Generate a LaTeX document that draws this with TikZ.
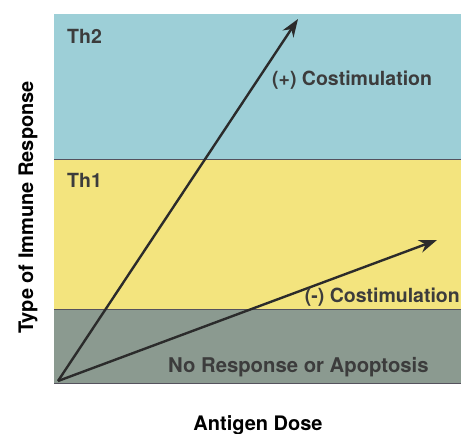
\documentclass[tikz,border=0pt]{standalone}
\usepackage{fontspec}
\setmainfont{TeX Gyre Heros}
\usepackage{tikz}
\usetikzlibrary{arrows.meta}
\definecolor{thtwo}{HTML}{9DCFD7}
\definecolor{thone}{HTML}{F3E47E}
\definecolor{noresp}{HTML}{8B9A90}
\definecolor{bandline}{HTML}{55525E}
\definecolor{inktext}{HTML}{3C3C3C}
\definecolor{arrowink}{HTML}{2B2B2B}
\newcommand{\bandfont}{\fontsize{19.5}{22}\selectfont\bfseries}
\newcommand{\axisfont}{\fontsize{20}{24}\selectfont\bfseries}

\tikzset{
  bandlabel/.style={anchor=base west, inner sep=0pt, text=inktext, font=\bandfont},
  axislabel/.style={inner sep=0pt, font=\axisfont},
  dosearrow/.style={draw=arrowink, line width=2.4pt, -{Stealth[length=18pt,width=13pt]}}
}

\begin{document}
\begin{tikzpicture}[x=1pt,y=-1pt]
    \useasboundingbox (0,0) rectangle (461,434);
    % response bands
    \fill[thtwo] (54,14) rectangle (461,159);
    \fill[thone] (54,159) rectangle (461,309);
    \fill[noresp] (54,309) rectangle (461,383);
    \draw[bandline, line width=0.8pt] (54,159) -- (461,159);
    \draw[bandline, line width=0.8pt] (54,309) -- (461,309);
    \draw[bandline, line width=0.8pt] (54,383) -- (461,383);
    \node[bandlabel] (th2) at (67,43) {Th2};
    \node[bandlabel] (th1) at (67,187) {Th1};
    \node[bandlabel, font=\fontsize{20.3}{23}\selectfont\bfseries] (noresp) at (168,372) {No Response or Apoptosis};
    % costimulation arrows
    \coordinate (origin) at (58,381);
    \coordinate (hightip) at (298,19);
    \coordinate (lowtip) at (437,240);
    \draw[dosearrow] (origin) -- (hightip);
    \draw[dosearrow] (origin) -- (lowtip);
    \node[bandlabel] (pluscost) at (272,85) {(+) Costimulation};
    \node[bandlabel, anchor=base east] (minuscost) at (460,302) {(-) Costimulation};
    % axes
    \node[axislabel, anchor=base] (dose) at (258,430) {Antigen Dose};
    \node[axislabel, rotate=90, anchor=base] (resp) at (33,207.5) {Type of Immune Response};
\end{tikzpicture}
\end{document}
